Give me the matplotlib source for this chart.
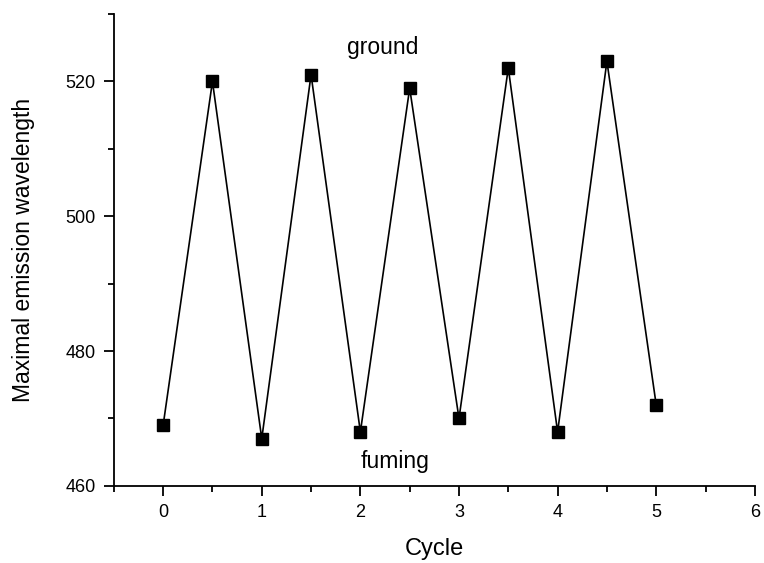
import matplotlib
matplotlib.use("Agg")
import matplotlib.pyplot as plt
from matplotlib.ticker import MultipleLocator

plt.rcParams['font.family'] = ['Liberation Sans', 'DejaVu Sans']

# data
cycle = [0, 0.5, 1, 1.5, 2, 2.5, 3, 3.5, 4, 4.5, 5]
wavelength = [469, 520, 467, 521, 468, 519, 470, 522, 468, 523, 472]

fig = plt.figure(figsize=(7.64, 5.63), dpi=100)
ax = fig.add_axes([0.149, 0.137, 0.839, 0.838])

ax.plot(cycle, wavelength, color='black', lw=1.2, marker='s', ms=8,
        markerfacecolor='black', markeredgecolor='black')

ax.set_xlim(-0.5, 6)
ax.set_ylim(460, 530)
ax.xaxis.set_major_locator(MultipleLocator(1))
ax.xaxis.set_minor_locator(MultipleLocator(0.5))
ax.yaxis.set_major_locator(MultipleLocator(20))
ax.yaxis.set_minor_locator(MultipleLocator(10))

ax.spines['top'].set_visible(False)
ax.spines['right'].set_visible(False)
ax.spines['left'].set_linewidth(1.3)
ax.spines['bottom'].set_linewidth(1.3)
ax.tick_params(which='major', direction='out', length=7, width=1.3, labelsize=13, pad=6)
ax.tick_params(which='minor', direction='out', length=4, width=1.3)

ax.set_xlabel('Cycle', fontsize=17, labelpad=12)
ax.set_ylabel('Maximal emission wavelength', fontsize=16.5, labelpad=22)

ax.text(2.23, 525, 'ground', fontsize=16.5, ha='center', va='center')
ax.text(2.35, 463.6, 'fuming', fontsize=16.5, ha='center', va='center')

fig.savefig('out.png', dpi=100)
